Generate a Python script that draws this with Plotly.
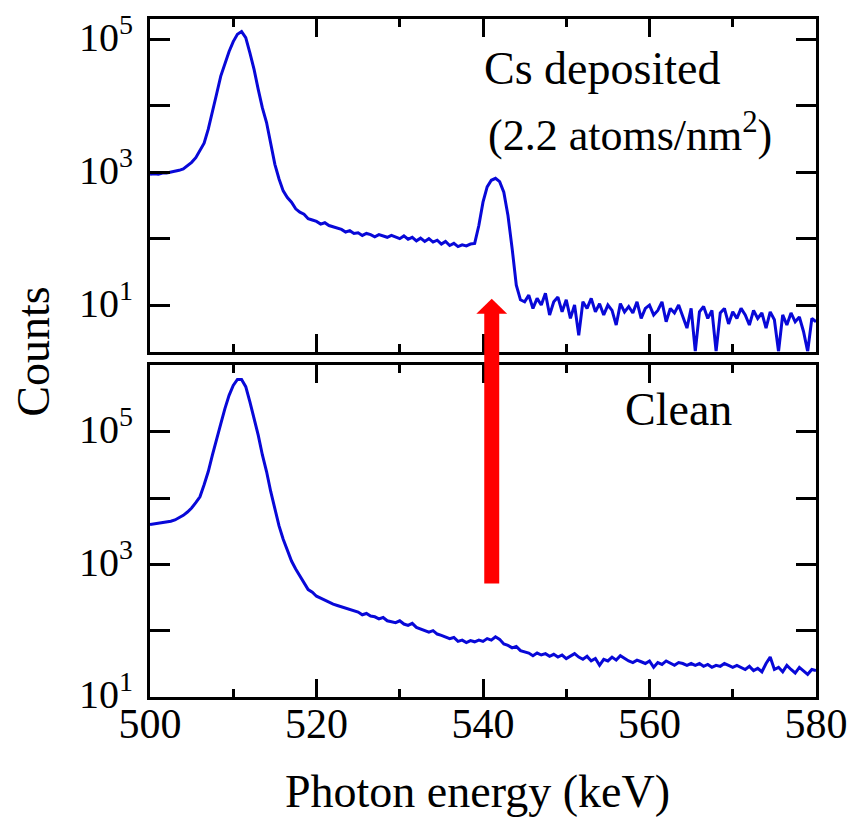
import numpy as np
import plotly.graph_objects as go
from plotly.subplots import make_subplots

# Photon energy grid (keV), 0.5 keV channels
energy_kev = np.arange(500.0, 580.01, 0.5)

# Cs deposited (2.2 atoms/nm^2) spectrum, counts
cs_counts = [
    933, 955, 933, 977, 977, 1000, 1023, 1072, 1122, 1259,
    1413, 1660, 2089, 2754, 4467, 7943, 15136, 28184, 44668, 66069,
    93325, 120226, 131826, 107152, 63096, 35481, 17783, 9333, 5623, 2818,
    1318, 794, 525, 417, 355, 282, 251, 234, 200, 191,
    182, 166, 174, 158, 151, 141, 138, 126, 132, 120,
    123, 112, 120, 115, 107, 115, 110, 105, 112, 107,
    100, 110, 98, 105, 93, 102, 91, 100, 89, 95,
    83, 91, 79, 85, 76, 81, 78, 83, 85, 158,
    355, 603, 759, 813, 724, 501, 224, 71, 20, 12,
    11.2, 14.1, 8.9, 12.6, 10, 15.1, 7.1, 11.2, 13.2, 7.9,
    12, 6.3, 10, 3.5, 11.2, 8.9, 12.6, 7.9, 10.5, 7.1,
    10, 8.3, 5, 10.5, 7.9, 9.5, 7.6, 11.2, 6.3, 8.9,
    10, 7.1, 8.3, 11.2, 5.6, 8.9, 7.6, 10, 6.6, 4.5,
    8.9, 2.0, 7.9, 9.5, 6.3, 8.3, 2.0, 7.6, 8.9, 5.2,
    7.9, 6.3, 8.9, 7.1, 5, 8.3, 6.3, 7.6, 4.5, 7.9,
    6, 2.0, 7.1, 5, 7.6, 5.6, 6.6, 4, 2.0, 6.3,
    5.6,
]

# Clean surface spectrum, counts
clean_counts = [
    3981, 4074, 4074, 4169, 4266, 4467, 4677, 5012, 5495, 6166,
    7079, 8511, 10471, 15849, 25119, 44668, 79433, 131826, 223872, 354813,
    501187, 616595, 616595, 478630, 281838, 165959, 89125, 44668, 25119, 12589,
    6607, 3802, 2399, 1660, 1122, 851, 661, 525, 417, 380,
    331, 309, 288, 275, 251, 240, 229, 214, 209, 195,
    191, 174, 182, 166, 162, 151, 158, 141, 138, 132,
    141, 126, 120, 129, 112, 107, 100, 95, 100, 89,
    85, 81, 76, 79, 69, 72, 66, 71, 68, 72,
    69, 76, 72, 81, 74, 63, 60, 55, 58, 50,
    48, 46, 42, 46, 43, 45, 41, 44, 40, 43,
    38, 42, 45, 40, 37, 41, 35, 38, 30, 37,
    35, 40, 36, 42, 38, 35, 33, 36, 34, 32,
    35, 28, 33, 31, 35, 32, 30, 33, 32, 30,
    32, 30, 32, 29, 31, 28, 30, 29, 32, 30,
    28, 30, 28, 26, 29, 25, 27, 24, 32, 40,
    26, 28, 24, 30, 26, 23, 28, 25, 22, 26,
    25,
]

x_tick_vals = [500, 520, 540, 560, 580]
y_tick_vals = [10, 100, 1000, 10000, 100000]
y_label_exponents = [1, 3, 5]   # labelled decades: 10^1, 10^3, 10^5

# The page body has an 8 px margin; the figure is sized to fit the 856x821 window.
OFF = 8
W, H = 856 - OFF, 821 - OFF
ML, MR, MT, MB = 150 - OFF, 39, 16 - OFF, 124
plot_h = H - MT - MB
plot_w = W - ML - MR

def py(p):  # reference pixel row -> paper y
    return (821 - MB - p) / plot_h

def px(p):  # reference pixel column -> paper x
    return (p - 150) / plot_w

FONT = "Liberation Serif"
LINE_BLUE = "#0808d8"

fig = make_subplots(rows=2, cols=1, shared_xaxes=False, vertical_spacing=0)

fig.add_trace(go.Scatter(x=energy_kev, y=cs_counts, mode="lines",
                         line=dict(color=LINE_BLUE, width=3), showlegend=False),
              row=1, col=1)
fig.add_trace(go.Scatter(x=energy_kev, y=clean_counts, mode="lines",
                         line=dict(color=LINE_BLUE, width=3), showlegend=False),
              row=2, col=1)

common_x = dict(range=[500, 580], tickvals=x_tick_vals, ticks="inside", ticklen=18,
                tickwidth=3, tickcolor="black", showline=True, linewidth=3,
                linecolor="black", mirror="allticks", showgrid=False, zeroline=False,
                minor=dict(dtick=10, tick0=500, ticks="inside", ticklen=8, tickwidth=3,
                           tickcolor="black", showgrid=False),
                tickfont=dict(family=FONT, size=42, color="black"))
common_y = dict(type="log", tickvals=y_tick_vals, ticks="inside", showticklabels=False,
                ticklen=20, tickwidth=3, tickcolor="black", showline=True, linewidth=3,
                linecolor="black", mirror="allticks", showgrid=False, zeroline=False)

fig.update_xaxes(**common_x)
fig.update_yaxes(**common_y)
fig.update_layout(
    xaxis=dict(domain=[0, 1], showticklabels=False, anchor="y"),
    xaxis2=dict(domain=[0, 1], showticklabels=True, anchor="y2", ticklabelstandoff=-12),
    yaxis=dict(domain=[py(350), 1.0], range=[0.30, 5.31]),
    yaxis2=dict(domain=[0.0, py(364)], range=[1.0, 6.0]),
)

# Decade labels of the log axes (annotation y is given in log10 units on log axes)
for yref in ("y", "y2"):
    for e in y_label_exponents:
        fig.add_annotation(text=f"10<sup>{e}</sup>", xref="paper", yref=yref,
                           x=px(135), y=e, showarrow=False, xanchor="right",
                           yanchor="middle", yshift=5,
                           font=dict(family=FONT, size=40, color="black"))

# Red arrow (shaft + head) in data-x / paper-y coordinates
fig.add_shape(type="rect", xref="x", yref="paper", x0=540.15, x1=541.95,
              y0=py(583), y1=py(311), fillcolor="#ff0000", line=dict(width=0),
              layer="above")
fig.add_shape(type="path", xref="x", yref="paper",
              path=f"M 539.2 {py(312)} L 542.9 {py(312)} L 541.05 {py(297)} Z",
              fillcolor="#ff0000", line=dict(width=0), layer="above")

ann_font = dict(family=FONT, size=46, color="black")
fig.add_annotation(text="Cs deposited", xref="paper", yref="paper",
                   x=px(603), y=py(66), showarrow=False,
                   xanchor="center", yanchor="middle", font=ann_font)
fig.add_annotation(text="(2.2 atoms/nm<sup>2</sup>)", xref="paper", yref="paper",
                   x=px(631), y=py(130), showarrow=False,
                   xanchor="center", yanchor="middle", font=dict(family=FONT, size=44, color="black"))
fig.add_annotation(text="Clean", xref="paper", yref="paper",
                   x=px(679), y=py(408), showarrow=False,
                   xanchor="center", yanchor="middle", font=ann_font)
fig.add_annotation(text="Counts", xref="paper", yref="paper",
                   x=px(33), y=py(350), showarrow=False,
                   textangle=-90, xanchor="center", yanchor="middle",
                   font=dict(family=FONT, size=46, color="black"))
fig.add_annotation(text="Photon energy (keV)", xref="paper", yref="paper",
                   x=px(478), y=py(792), showarrow=False,
                   xanchor="center", yanchor="middle",
                   font=dict(family=FONT, size=46, color="black"))

fig.update_layout(width=W, height=H, margin=dict(l=ML, r=MR, t=MT, b=MB),
                  plot_bgcolor="white", paper_bgcolor="white", showlegend=False)

fig.write_html("out.html")
